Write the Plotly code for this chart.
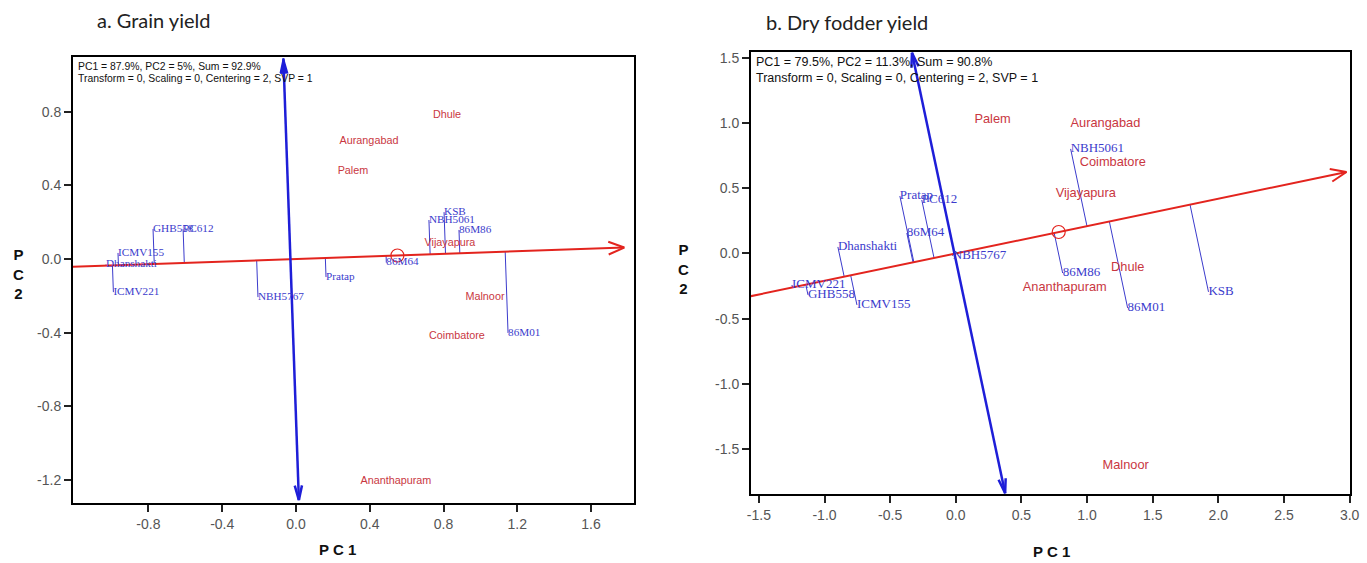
import numpy as np
import plotly.graph_objects as go

W, H = 1367, 563

# ---------------- a. Grain yield ----------------
a_genotypes = ["GHB558", "PC612", "ICMV155", "Dhanshakti", "ICMV221", "NBH5767",
               "Pratap", "86M64", "NBH5061", "KSB", "86M86", "86M01"]
a_geno_pc1 = [-0.775, -0.612, -0.965, -1.03, -0.99, -0.206, 0.163, 0.49, 0.721, 0.803, 0.884, 1.15]
a_geno_pc2 = [0.163, 0.163, 0.033, -0.03, -0.18, -0.207, -0.098, -0.02, 0.212, 0.255, 0.158, -0.402]
a_envs = ["Dhule", "Aurangabad", "Palem", "Vijayapura", "Malnoor", "Coimbatore", "Ananthapuram"]
a_env_pc1 = [0.819, 0.396, 0.309, 0.835, 1.025, 0.873, 0.542]
a_env_pc2 = [0.783, 0.641, 0.478, 0.087, -0.207, -0.418, -1.207]
a_aec_slope = 0.035          # average-environment axis direction (PC2 per PC1)
a_aec_from, a_aec_to = -1.25, 1.78
a_mean_env_pc1 = 0.55
a_ord_cross = -0.03          # where the ordinate meets the abscissa (PC1)
a_ord_top, a_ord_bottom = 1.09, -1.31
a_info = ["PC1 = 87.9%, PC2 = 5%, Sum = 92.9%",
          "Transform = 0, Scaling = 0, Centering = 2, SVP = 1"]
a_xrange, a_yrange = [-1.209, 1.833], [-1.326, 1.098]
a_xticks = [-0.8, -0.4, 0.0, 0.4, 0.8, 1.2, 1.6]
a_yticks = [-1.2, -0.8, -0.4, 0.0, 0.4, 0.8]

# ---------------- b. Dry fodder yield ----------------
b_genotypes = ["Pratap", "PC612", "86M64", "NBH5767", "Dhanshakti", "ICMV221", "GHB558",
               "ICMV155", "NBH5061", "86M86", "86M01", "KSB"]
b_geno_pc1 = [-0.426, -0.259, -0.373, -0.023, -0.898, -1.248, -1.126, -0.753, 0.875, 0.814, 1.309, 1.925]
b_geno_pc2 = [0.441, 0.41, 0.157, -0.019, 0.05, -0.242, -0.318, -0.395, 0.802, -0.15, -0.418, -0.295]
b_envs = ["Palem", "Aurangabad", "Coimbatore", "Vijayapura", "Dhule", "Ananthapuram", "Malnoor"]
b_env_pc1 = [0.28, 1.14, 1.196, 0.99, 1.31, 0.83, 1.294]
b_env_pc2 = [1.025, 0.994, 0.695, 0.457, -0.111, -0.265, -1.63]
b_aec_slope = 0.21
b_aec_from, b_aec_to = -1.6, 2.976
b_mean_env_pc1 = 0.784
b_ord_cross = -0.01
b_ord_top, b_ord_bottom = 1.54, -1.84
b_info = ["PC1 = 79.5%, PC2 = 11.3%, Sum = 90.8%",
          "Transform = 0, Scaling = 0, Centering = 2, SVP = 1"]
b_xrange, b_yrange = [-1.56, 3.003], [-1.846, 1.546]
b_xticks = [-1.5, -1.0, -0.5, 0.0, 0.5, 1.0, 1.5, 2.0, 2.5, 3.0]
b_yticks = [-1.5, -1.0, -0.5, 0.0, 0.5, 1.0, 1.5]

# plot-area boxes in page pixels (left, top, right, bottom)
a_box = (73, 57, 634, 503)
b_box = (751, 52, 1350, 494)

RED = "#e3241e"
AXIS_BLUE = "#1e1ed8"
GENO_BLUE = "#3b3bcc"
ENV_RED = "#c9373f"

fig = go.Figure()


def dom(box):
    l, t, r, b = box
    return [l / W, r / W], [1 - b / H, 1 - t / H]


def chevron(tip, direction, scale, length, half_angle):
    """Two barbs of an arrowhead, built in pixel space and returned in data units."""
    sx, sy = scale
    d = np.array([direction[0] * sx, -direction[1] * sy])
    d = d / np.linalg.norm(d)
    back = -d
    pts_x, pts_y = [], []
    for sgn in (1, -1):
        a = np.radians(half_angle) * sgn
        rot = np.array([back[0] * np.cos(a) - back[1] * np.sin(a),
                        back[0] * np.sin(a) + back[1] * np.cos(a)])
        p = rot * length
        pts_x.append(tip[0] + p[0] / sx)
        pts_y.append(tip[1] - p[1] / sy)
    return [pts_x[0], tip[0], pts_x[1]], [pts_y[0], tip[1], pts_y[1]]


def panel(xa, ya, box, xr, yr, genos, gx, gy, envs, ex, ey, m, aec_from, aec_to,
          mean_pc1, cross, ord_top, ord_bottom, gsize, esize, filled_top):
    l, t, r, b = box
    scale = ((r - l) / (xr[1] - xr[0]), (b - t) / (yr[1] - yr[0]))
    common = dict(xaxis=xa, yaxis=ya, showlegend=False, hoverinfo="skip")

    # projections of each genotype onto the average-environment axis
    px, py = [], []
    for x, y in zip(gx, gy):
        tt = (x + m * y) / (1 + m * m)
        px += [x, tt, None]
        py += [y, tt * m, None]
    fig.add_trace(go.Scatter(x=px, y=py, mode="lines",
                             line=dict(color=GENO_BLUE, width=1), **common))

    # average-environment axis (abscissa) with arrow
    fig.add_trace(go.Scatter(x=[aec_from, aec_to], y=[m * aec_from, m * aec_to], mode="lines",
                             line=dict(color=RED, width=2), **common))
    hx, hy = chevron((aec_to, m * aec_to), (1, m), scale, 17, 22)
    fig.add_trace(go.Scatter(x=hx, y=hy, mode="lines", line=dict(color=RED, width=2), **common))

    # ordinate perpendicular to the abscissa, arrows at both ends
    def ord_x(y):
        return cross - m * (y - m * cross)

    top = (ord_x(ord_top), ord_top)
    bot = (ord_x(ord_bottom), ord_bottom)
    fig.add_trace(go.Scatter(x=[top[0], bot[0]], y=[top[1], bot[1]], mode="lines",
                             line=dict(color=AXIS_BLUE, width=2.5), **common))
    for tip, d, filled in ((top, (-m, 1), filled_top), (bot, (m, -1), False)):
        hx, hy = chevron(tip, d, scale, 15, 14)
        if filled:
            fig.add_trace(go.Scatter(x=hx + [hx[0]], y=hy + [hy[0]], mode="lines", fill="toself",
                                     fillcolor=AXIS_BLUE, line=dict(color=AXIS_BLUE, width=1.5),
                                     **common))
        else:
            fig.add_trace(go.Scatter(x=hx, y=hy, mode="lines",
                                     line=dict(color=AXIS_BLUE, width=2.5), **common))

    # average environment marker
    fig.add_trace(go.Scatter(x=[mean_pc1], y=[m * mean_pc1], mode="markers",
                             marker=dict(symbol="circle-open", size=13, color=RED,
                                         line=dict(width=1.2, color=RED)), **common))

    # genotype and environment labels
    fig.add_trace(go.Scatter(x=gx, y=gy, mode="text", text=genos, textposition="middle right",
                             textfont=dict(family="Liberation Serif", size=gsize, color=GENO_BLUE),
                             cliponaxis=False, **common))
    fig.add_trace(go.Scatter(x=ex, y=ey, mode="text", text=envs, textposition="middle center",
                             textfont=dict(family="Liberation Sans, Arial", size=esize, color=ENV_RED),
                             cliponaxis=False, **common))


panel("x", "y", a_box, a_xrange, a_yrange, a_genotypes, a_geno_pc1, a_geno_pc2,
      a_envs, a_env_pc1, a_env_pc2, a_aec_slope, a_aec_from, a_aec_to,
      a_mean_env_pc1, a_ord_cross, a_ord_top, a_ord_bottom, 11.2, 10.8, True)
panel("x2", "y2", b_box, b_xrange, b_yrange, b_genotypes, b_geno_pc1, b_geno_pc2,
      b_envs, b_env_pc1, b_env_pc2, b_aec_slope, b_aec_from, b_aec_to,
      b_mean_env_pc1, b_ord_cross, b_ord_top, b_ord_bottom, 13, 12.8, False)

axis_style = dict(showline=True, mirror=True, linecolor="black", linewidth=2,
                  ticks="outside", ticklen=7, tickwidth=1.5, tickcolor="#222",
                  showgrid=False, zeroline=False, automargin=False,
                  tickfont=dict(family="Liberation Sans, Arial", size=14, color="#555"))


def labels(vals):
    return [f"{v:.1f}" for v in vals]


axd, ayd = dom(a_box)
bxd, byd = dom(b_box)
fig.update_layout(
    width=W, height=H, margin=dict(l=0, r=0, t=0, b=0),
    paper_bgcolor="white", plot_bgcolor="white",
    xaxis=dict(domain=axd, range=a_xrange, tickvals=a_xticks, ticktext=labels(a_xticks),
               anchor="y", **axis_style),
    yaxis=dict(domain=ayd, range=a_yrange, tickvals=a_yticks, ticktext=labels(a_yticks),
               anchor="x", **axis_style),
    xaxis2=dict(domain=bxd, range=b_xrange, tickvals=b_xticks, ticktext=labels(b_xticks),
                anchor="y2", **axis_style),
    yaxis2=dict(domain=byd, range=b_yrange, tickvals=b_yticks, ticktext=labels(b_yticks),
                anchor="x2", **axis_style),
)


def note(text, px, py, size, xanchor="left", yanchor="middle", bold=False,
         family="Liberation Sans, Arial", color="#111"):
    fig.add_annotation(text=f"<b>{text}</b>" if bold else text, x=px / W, y=1 - py / H,
                       xref="paper", yref="paper", xanchor=xanchor, yanchor=yanchor,
                       showarrow=False, align="center",
                       font=dict(family=family, size=size, color=color))


# panel titles
note("a. Grain yield", 95, 20, 20, family="Lato, Liberation Sans", color="#222")
note("b. Dry fodder yield", 764, 22, 20, family="Lato, Liberation Sans", color="#222")

# info lines in the top-left corner of each panel
note(a_info[0], 76, 66, 10.4)
note(a_info[1], 76, 79, 10.4)
note(b_info[0], 754, 62, 12.5)
note(b_info[1], 754, 78, 12.5)

# axis titles
note("P C 1", 337, 549, 15, xanchor="center", bold=True)
note("P C 1", 1051, 551, 15, xanchor="center", bold=True)
note("P<br>C<br>2", 18, 274, 15, xanchor="center", bold=True)
note("P<br>C<br>2", 683, 269, 15, xanchor="center", bold=True)

fig.write_html("out.html")
